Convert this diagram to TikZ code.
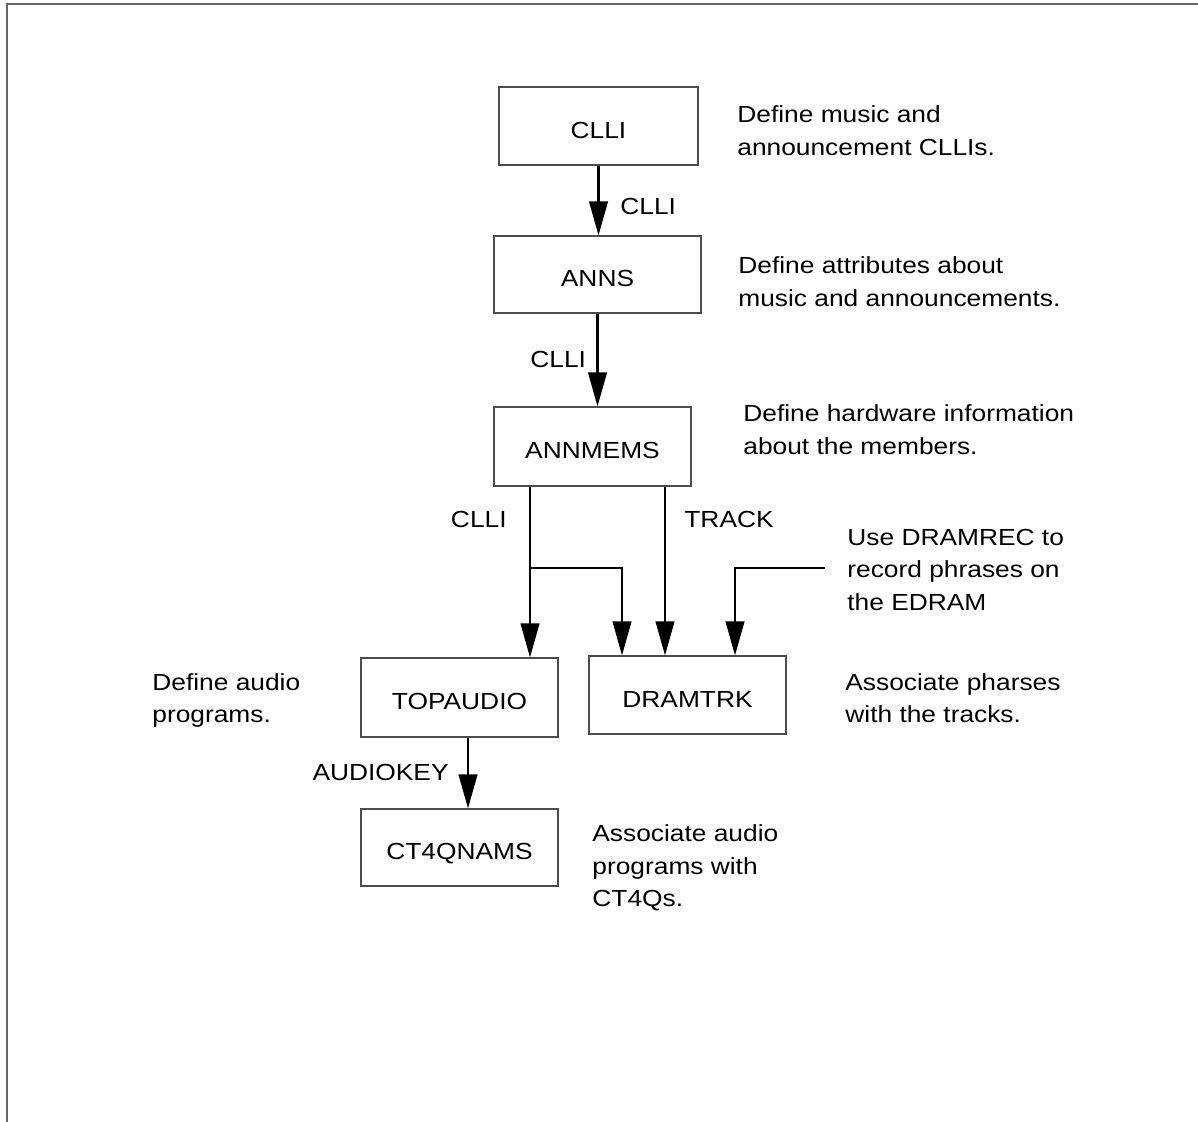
\documentclass[tikz,border=0pt]{standalone}
\usepackage{fontspec}
\setmainfont{Liberation Sans}[FakeStretch=1.13]
\usetikzlibrary{arrows.meta}

\begin{document}
\begin{tikzpicture}[
    x=0.5pt, y=-0.5pt,
    font=\fontsize{11.65}{16.3}\selectfont,
    table/.style={draw=black!70, line width=0.6pt, minimum width=98.5pt, minimum height=39pt,
        inner sep=0pt, text height=12.3pt, text depth=0pt},
    flow/.style={line width=1.15pt, -{Triangle[length=17pt, width=9.3pt]}},
    note/.style={anchor=base west, align=left, inner sep=0pt},
    lbl/.style={anchor=base west, inner sep=0pt}
]
\useasboundingbox (0,0) rectangle (1198,1122);

% ---- frame ----
\draw[black!60, line width=1pt] (1198,3.7) -- (6.7,3.7) -- (6.7,1122);

% ---- tables ----
\node[table, minimum width=99.5pt] (clli) at (598.5,126) {CLLI};
\node[table, minimum width=103.5pt, minimum height=38.5pt] (anns) at (597.5,274.5) {ANNS};
\node[table, minimum height=39.5pt] (annmems) at (592.5,446.5) {ANNMEMS};
\node[table, minimum height=39.5pt] (topaudio) at (459.5,697.5) {TOPAUDIO};
\node[table] (dramtrk) at (687.5,695) {DRAMTRK};
\node[table, minimum height=38.5pt] (ct4q) at (459.5,847.5) {CT4QNAMS};

% ---- notes (placed at the baseline of their last line) ----
\node[note] (n1) at (737,155.6) {Define music and\\announcement CLLIs.};
\node[note] (n2) at (738,306.1) {Define attributes about\\music and announcements.};
\node[note] (n3) at (743,454.1) {Define hardware information\\about the members.};
\node[note] (n4) at (847,610.2) {Use DRAMREC to\\record phrases on\\the EDRAM};
\node[note] (n5) at (152,722.6) {Define audio\\programs.};
\node[note] (n6) at (845,722.6) {Associate pharses\\with the tracks.};
\node[note] (n7) at (592,906.9) {Associate audio\\programs with\\CT4Qs.};

% ---- edge labels ----
\node[lbl] (l1) at (620,215) {CLLI};
\node[lbl] (l2) at (530,367.7) {CLLI};
\node[lbl, anchor=base east] (l3) at (507,527) {CLLI};
\node[lbl] (l4) at (684,527) {TRACK};
\node[lbl, anchor=base east] (l5) at (449,780) {AUDIOKEY};

% ---- bends ----
\coordinate (split) at (530,568);
\coordinate (splitbend) at (622,568);
\coordinate (trk) at (665,568);
\coordinate (rec) at (825,568);
\coordinate (recbend) at (735,568);

% ---- edges ----
\draw[flow] (clli.south) -- (clli.south |- anns.north);
\draw[flow] (anns.south) -- (anns.south |- annmems.north);

\draw[flow] (annmems.south -| split) -- (topaudio.north -| split);
\draw[flow] (split) -- (splitbend) -- (splitbend |- dramtrk.north);
\draw[flow] (annmems.south -| trk) -- (dramtrk.north -| trk);
\draw[flow] (rec) -- (recbend) -- (recbend |- dramtrk.north);

\draw[flow] ([xshift=4.25pt]topaudio.south) -- ([xshift=4.25pt]topaudio.south |- ct4q.north);

\end{tikzpicture}
\end{document}
